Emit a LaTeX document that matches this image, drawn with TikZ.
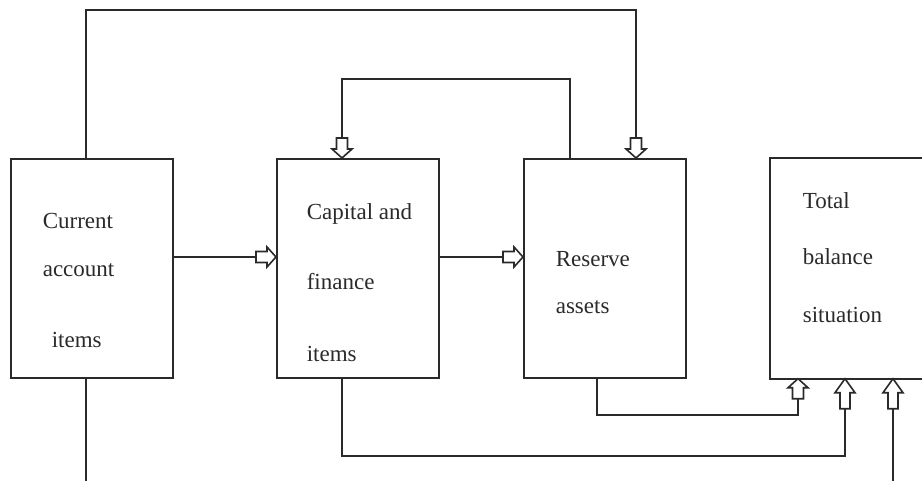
\documentclass[tikz,border=0pt]{standalone}
\usepackage{fontspec}
\setmainfont{Liberation Serif}
\newfontfamily\timesx{Liberation Serif}
\definecolor{ink}{HTML}{2A2A2A}
\begin{document}
\begin{tikzpicture}[x=1pt,y=-1pt, color=ink, line width=1.6pt,
  box/.style={draw=ink, line width=1.7pt, rectangle, minimum width=162pt, minimum height=219pt, inner sep=0pt, anchor=north west},
  lbl/.style={anchor=base west, inner sep=0pt, text=ink, font=\timesx\fontsize{23}{27}\selectfont},
  barrow/.pic={\draw[fill=white, line width=1.6pt, line join=miter] (0,0) -- (-9,-10) -- (-9,-5.5) -- (-20,-5.5) -- (-20,5.5) -- (-9,5.5) -- (-9,10) -- cycle;},
  barrowlong/.pic={\draw[fill=white, line width=1.6pt, line join=miter] (0,0) -- (-14,-10) -- (-14,-5) -- (-30,-5) -- (-30,5) -- (-14,5) -- (-14,10) -- cycle;}
]
\useasboundingbox (0,0) rectangle (922,481);
\clip (0,0) rectangle (922,481);

% boxes
\node[box] (b1) at (10,158) {};
\node[box] (b2) at (276,158) {};
\node[box] (b3) at (523,158) {};
\node[box, draw=none, minimum width=156pt] (b4) at (770,158) {};
\draw[line width=1.7pt] (b4.north east) -- (b4.north west) -- (b4.south west) -- (b4.south east);

% labels
\node[lbl] (l1a) at (42,229) {Current};
\node[lbl] (l1b) at (42,277) {account};
\node[lbl] (l1c) at (51,348) {items};
\node[lbl] (l2a) at (306,220) {Capital and};
\node[lbl] (l2b) at (306,290) {finance};
\node[lbl] (l2c) at (306,362) {items};
\node[lbl] (l3a) at (555,267) {Reserve};
\node[lbl] (l3b) at (555,314) {assets};
\node[lbl] (l4a) at (802,209) {Total};
\node[lbl] (l4b) at (802,265) {balance};
\node[lbl] (l4c) at (802,323) {situation};

% helper coordinates
\coordinate (top1) at (636,10);
\coordinate (top2) at (342,79);
\coordinate (bot1) at (798,415);
\coordinate (bot2) at (845,456);
\coordinate (end1) at (86,481);
\coordinate (end3) at (893,481);

% top loops
\draw (b1.north -| end1) |- (top1) -- (b3.north -| top1);
\pic[rotate=-90] at (b3.north -| top1) {barrow};
\draw (b3.north -| 570,0) |- (top2) -- (b2.north -| top2);
\pic[rotate=-90] at (b2.north -| top2) {barrow};

% horizontal arrows
\draw (b1.east |- 0,257) -- (b2.west |- 0,257);
\pic at (b2.west |- 0,257) {barrow};
\draw (b2.east |- 0,257) -- (b3.west |- 0,257);
\pic at (b3.west |- 0,257) {barrow};

% bottom lines
\draw (b1.south -| end1) -- (end1);
\draw (b3.south -| 597,0) |- (bot1) -- (b4.south -| bot1);
\pic[rotate=90] at (b4.south -| bot1) {barrow};
\draw (b2.south -| top2) |- (bot2) -- (b4.south -| bot2);
\pic[rotate=90] at (b4.south -| bot2) {barrowlong};
\draw (end3) -- (b4.south -| end3);
\pic[rotate=90] at (b4.south -| end3) {barrowlong};
\end{tikzpicture}
\end{document}
